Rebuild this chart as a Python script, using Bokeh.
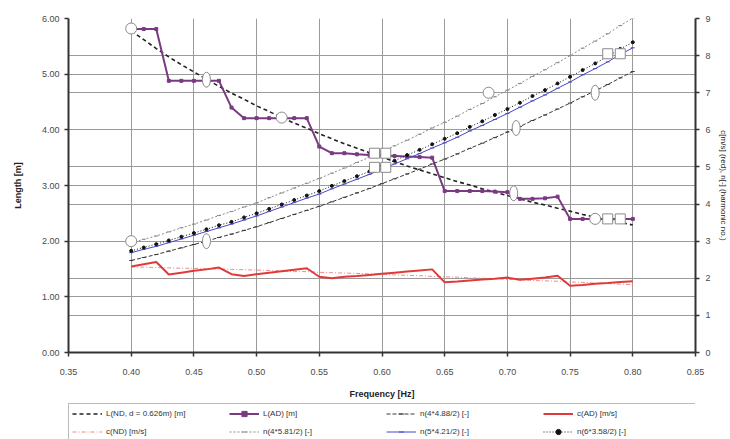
from bokeh.plotting import figure
from bokeh.layouts import column
from bokeh.models import (Range1d, LinearAxis, Grid, Legend, LegendItem, FixedTicker,
                          NumeralTickFormatter)
from bokeh.embed import file_html
from bokeh.resources import INLINE

# ---------------- data ----------------
freq = [0.40, 0.41, 0.42, 0.43, 0.44, 0.45, 0.46, 0.47, 0.48, 0.49, 0.50,
        0.51, 0.52, 0.53, 0.54, 0.55, 0.56, 0.57, 0.58, 0.59, 0.60,
        0.61, 0.62, 0.63, 0.64, 0.65, 0.66, 0.67, 0.68, 0.69, 0.70,
        0.71, 0.72, 0.73, 0.74, 0.75, 0.76, 0.77, 0.78, 0.79, 0.80]

# wave length, numerical dispersion (left axis, m)
L_nd = [5.78, 5.62, 5.46, 5.31, 5.17, 5.04, 4.91, 4.78, 4.66, 4.55, 4.43,
        4.33, 4.22, 4.12, 4.03, 3.93, 3.84, 3.75, 3.67, 3.59, 3.51,
        3.43, 3.35, 3.28, 3.21, 3.14, 3.07, 3.01, 2.94, 2.88, 2.82,
        2.76, 2.70, 2.65, 2.59, 2.54, 2.48, 2.43, 2.38, 2.34, 2.29]

# wave length, AD (left axis, m)
L_ad = [5.81, 5.81, 5.81, 4.88, 4.88, 4.88, 4.88, 4.88, 4.40, 4.21, 4.21,
        4.21, 4.21, 4.21, 4.21, 3.70, 3.58, 3.58, 3.56, 3.55, 3.54,
        3.53, 3.52, 3.51, 3.50, 2.90, 2.90, 2.90, 2.90, 2.89, 2.88,
        2.76, 2.76, 2.77, 2.80, 2.40, 2.40, 2.40, 2.40, 2.40, 2.40]

# celerity (right axis, m/s)
c_ad = [2.32, 2.38, 2.44, 2.10, 2.15, 2.20, 2.24, 2.29, 2.11, 2.06, 2.11,
        2.15, 2.19, 2.23, 2.27, 2.04, 2.00, 2.04, 2.06, 2.09, 2.12,
        2.15, 2.18, 2.21, 2.24, 1.89, 1.91, 1.94, 1.97, 1.99, 2.02,
        1.96, 1.99, 2.02, 2.07, 1.80, 1.82, 1.85, 1.87, 1.90, 1.92]
c_nd = [2.31, 2.30, 2.29, 2.28, 2.27, 2.27, 2.26, 2.25, 2.24, 2.23, 2.22,
        2.21, 2.20, 2.18, 2.18, 2.16, 2.15, 2.14, 2.13, 2.12, 2.11,
        2.09, 2.08, 2.07, 2.05, 2.04, 2.03, 2.01, 2.00, 1.99, 1.97,
        1.96, 1.94, 1.93, 1.92, 1.90, 1.89, 1.87, 1.86, 1.84, 1.83]

# harmonic numbers (right axis, -)
n_4_488 = [2.48, 2.56, 2.64, 2.73, 2.82, 2.91, 3.00, 3.10, 3.19, 3.29, 3.39,
           3.50, 3.61, 3.72, 3.83, 3.94, 4.06, 4.18, 4.30, 4.42, 4.55,
           4.68, 4.81, 4.94, 5.08, 5.21, 5.35, 5.50, 5.64, 5.79, 5.94,
           6.09, 6.25, 6.40, 6.56, 6.72, 6.89, 7.05, 7.22, 7.40, 7.57]
n_4_581 = [2.95, 3.05, 3.14, 3.25, 3.36, 3.46, 3.57, 3.69, 3.80, 3.92, 4.03,
           4.17, 4.30, 4.43, 4.56, 4.69, 4.83, 4.97, 5.12, 5.26, 5.41,
           5.57, 5.72, 5.88, 6.05, 6.20, 6.37, 6.55, 6.71, 6.89, 7.07,
           7.25, 7.44, 7.62, 7.81, 8.00, 8.20, 8.39, 8.59, 8.81, 9.01]
n_5_421 = [2.69, 2.78, 2.86, 2.96, 3.06, 3.16, 3.26, 3.36, 3.46, 3.57, 3.68,
           3.80, 3.92, 4.04, 4.16, 4.27, 4.41, 4.54, 4.67, 4.80, 4.94,
           5.08, 5.22, 5.36, 5.51, 5.65, 5.80, 5.97, 6.12, 6.28, 6.44,
           6.61, 6.78, 6.94, 7.12, 7.29, 7.48, 7.65, 7.83, 8.03, 8.21]
n_6_358 = [2.74, 2.83, 2.92, 3.02, 3.12, 3.22, 3.32, 3.43, 3.52, 3.64, 3.75,
           3.87, 3.99, 4.11, 4.23, 4.35, 4.49, 4.62, 4.75, 4.88, 5.03,
           5.17, 5.32, 5.46, 5.61, 5.76, 5.91, 6.08, 6.23, 6.40, 6.56,
           6.73, 6.91, 7.07, 7.25, 7.43, 7.61, 7.79, 7.98, 8.18, 8.36]

# highlighted (white) resonance points
hlL_circ_f = [0.40, 0.52, 0.77]
hlL_circ_v = [5.82, 4.22, 2.40]
hlL_ell_f = [0.46, 0.705]
hlL_ell_v = [4.90, 2.86]
hlL_sq_f = [0.594, 0.603, 0.780, 0.790]
hlL_sq_v = [3.58, 3.58, 2.40, 2.40]
hlN_circ_f = [0.40, 0.685]
hlN_circ_v = [3.0, 7.0]
hlN_ell_f = [0.46, 0.707, 0.77]
hlN_ell_v = [3.0, 6.05, 7.0]
hlN_sq_f = [0.594, 0.603, 0.780, 0.790]
hlN_sq_v = [4.99, 4.99, 8.05, 8.05]

x_ticks = [0.35, 0.40, 0.45, 0.50, 0.55, 0.60, 0.65, 0.70, 0.75, 0.80, 0.85]
yl_ticks = [0, 1, 2, 3, 4, 5, 6]
yr_ticks = [0, 1, 2, 3, 4, 5, 6, 7, 8, 9]

labels = ["L(ND, d = 0.626m) [m]", "L(AD) [m]", "n(4*4.88/2) [-]", "c(AD) [m/s]",
          "c(ND) [m/s]", "n(4*5.81/2) [-]", "n(5*4.21/2) [-]", "n(6*3.58/2) [-]"]

# off-range placeholder point used only for the legend-strip glyph renderers
legend_dummy_x = [-1.0]
legend_dummy_y = [-1.0]

FONT = "Liberation Sans"
GRID = "#9a9a9a"
AX = "#333333"

# series styles: (line kwargs, marker kwargs or None)
STY = {
    "L_nd": (dict(line_color="#222222", line_width=1.6, line_dash="4 3"), None),
    "L_ad": (dict(line_color="#7a3a82", line_width=2),
             dict(marker="square", size=3, fill_color="#7a3a82", line_color="#7a3a82")),
    "n488": (dict(line_color="#3a3a3a", line_width=1, line_dash="4 2"),
             dict(marker="dash", size=4, line_color="#3a3a3a")),
    "c_ad": (dict(line_color="#e03a3a", line_width=2), None),
    "c_nd": (dict(line_color="#f08a8a", line_width=1, line_dash="4 2 1 2"), None),
    "n581": (dict(line_color="#8a8a8a", line_width=1, line_dash="2 2"),
             dict(marker="dash", size=4, line_color="#8a8a8a")),
    "n421": (dict(line_color="#4848c8", line_width=1),
             dict(marker="dash", size=4, line_color="#4848c8")),
    "n358": (dict(line_color="#111111", line_width=1, line_dash="1 2"),
             dict(marker="circle", size=3, fill_color="#111111", line_color="#111111")),
}


def draw(fig, key, xs, ys, **rng):
    lkw, mkw = STY[key]
    rs = [fig.line(xs, ys, **lkw, **rng)]
    if mkw is not None:
        rs.append(fig.scatter(xs, ys, **mkw, **rng))
    return rs


# ---------------- main figure ----------------
p = figure(width=730, height=403, output_backend="svg", toolbar_location=None,
           x_range=Range1d(0.35, 0.85), y_range=Range1d(0, 6),
           min_border_left=68, min_border_top=18, min_border_right=32,
           min_border_bottom=51)
p.extra_y_ranges = {"n": Range1d(0, 9)}
p.outline_line_color = None
p.background_fill_color = "white"

p.xaxis.ticker = FixedTicker(ticks=x_ticks)
p.xaxis.formatter = NumeralTickFormatter(format="0.00")
p.yaxis.ticker = FixedTicker(ticks=yl_ticks)
p.yaxis.formatter = NumeralTickFormatter(format="0.00")
p.xaxis.axis_label = "Frequency [Hz]"
p.yaxis.axis_label = "Length [m]"

raxis = LinearAxis(y_range_name="n", ticker=FixedTicker(ticks=yr_ticks),
                   axis_label="c[m/s] (red), n[-] (harmonic no.)")
p.add_layout(raxis, "right")

for ax in [p.xaxis[0], p.yaxis[0], raxis]:
    ax.axis_line_color = AX
    ax.axis_line_width = 2
    ax.major_tick_line_color = AX
    ax.major_tick_line_width = 1.5
    ax.major_tick_out = 4
    ax.major_tick_in = 0
    ax.minor_tick_line_color = None
    ax.major_label_text_font = FONT
    ax.major_label_text_font_size = "9px"
    ax.major_label_text_color = "#4a4a4a"
    ax.axis_label_text_font = FONT
    ax.axis_label_text_font_size = "9px"
    ax.axis_label_text_font_style = "bold"
    ax.axis_label_text_color = "#222222"
p.xaxis.major_label_standoff = 12
p.xaxis.axis_label_standoff = 11
p.yaxis.major_label_standoff = 5
p.yaxis.axis_label_standoff = 16
raxis.major_label_standoff = 6
raxis.axis_label_standoff = 5
raxis.axis_label_text_font_size = "8px"
raxis.axis_label_text_font_style = "normal"

p.xgrid.grid_line_color = GRID
p.ygrid.grid_line_color = GRID
p.xgrid.grid_line_width = 1
p.ygrid.grid_line_width = 1
p.add_layout(Grid(dimension=1, ticker=FixedTicker(ticks=yr_ticks), y_range_name="n",
                  grid_line_color=GRID, grid_line_width=1))

draw(p, "L_nd", freq, L_nd)
draw(p, "L_ad", freq, L_ad)
draw(p, "n488", freq, n_4_488, y_range_name="n")
draw(p, "n581", freq, n_4_581, y_range_name="n")
draw(p, "n421", freq, n_5_421, y_range_name="n")
draw(p, "n358", freq, n_6_358, y_range_name="n")
draw(p, "c_nd", freq, c_nd, y_range_name="n")
draw(p, "c_ad", freq, c_ad, y_range_name="n")

# highlighted points
HL = dict(fill_color="white", line_color="#8a8a8a", line_width=1)
p.scatter(hlL_circ_f, hlL_circ_v, marker="circle", size=11, **HL)
p.ellipse(hlL_ell_f, hlL_ell_v, width=8, height=15, width_units="screen",
          height_units="screen", **HL)
p.scatter(hlL_sq_f, hlL_sq_v, marker="square", size=10, **HL)
p.scatter(hlN_circ_f, hlN_circ_v, y_range_name="n", marker="circle", size=11, **HL)
p.ellipse(hlN_ell_f, hlN_ell_v, y_range_name="n", width=8, height=15,
          width_units="screen", height_units="screen", **HL)
p.scatter(hlN_sq_f, hlN_sq_v, y_range_name="n", marker="square", size=10, **HL)

# ---------------- legend strip ----------------
pl = figure(width=730, height=36, output_backend="svg", toolbar_location=None,
            x_range=Range1d(0, 1), y_range=Range1d(0, 1), min_border=0,
            x_axis_location=None, y_axis_location=None)
pl.grid.visible = False
pl.outline_line_color = None

order = ["L_nd", "L_ad", "n488", "c_ad", "c_nd", "n581", "n421", "n358"]
items = [LegendItem(label=lab, renderers=draw(pl, key, legend_dummy_x, legend_dummy_y))
         for lab, key in zip(labels, order)]
legend = Legend(items=items, location=(0, -3), orientation="horizontal", ncols=4,
                glyph_width=30, glyph_height=13, label_height=13, label_width=118,
                label_standoff=4, spacing=5, padding=3, margin=0,
                label_text_font=FONT, label_text_font_size="8px",
                label_text_color="#333333",
                border_line_color="#777777", border_line_width=1,
                background_fill_color="white", background_fill_alpha=1.0)
pl.add_layout(legend, "center")

layout = column(p, pl, spacing=0)
open("out.html", "w").write(file_html(layout, INLINE))
